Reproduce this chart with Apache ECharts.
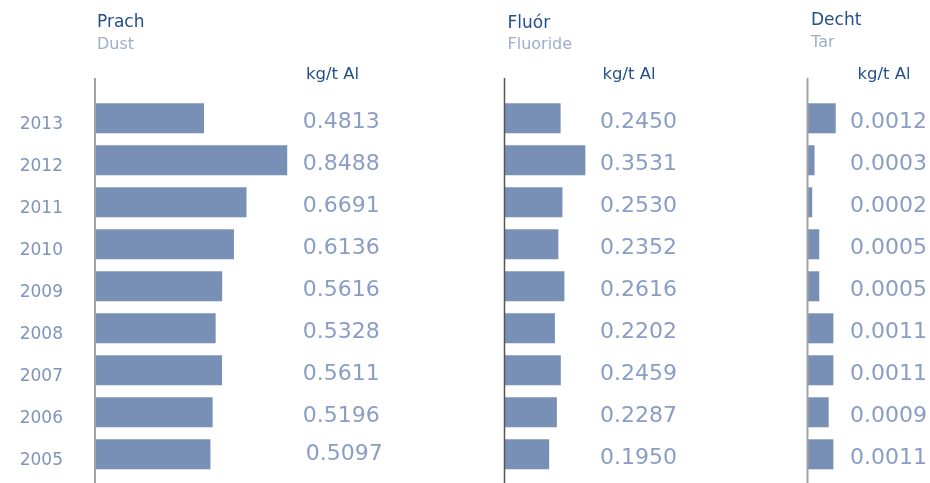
<!DOCTYPE html>
<html>
<head>
<meta charset="utf-8">
<script src="https://cdn.jsdelivr.net/npm/echarts@6/dist/echarts.min.js"></script>
<style>
html,body{margin:0;padding:0;background:#fff;}
#c{width:930px;height:483px;}
</style>
</head>
<body>
<div id="c"></div>
<script>
var years = ['2013','2012','2011','2010','2009','2008','2007','2006','2005'];
var dust = [0.4813,0.8488,0.6691,0.6136,0.5616,0.5328,0.5611,0.5196,0.5097];
var fluoride = [0.2450,0.3531,0.2530,0.2352,0.2616,0.2202,0.2459,0.2287,0.1950];
var tar = [0.0012,0.0003,0.0002,0.0005,0.0005,0.0011,0.0011,0.0009,0.0011];
var titles = ['Prach','Fluór','Decht'];
var subtitles = ['Dust','Fluoride','Tar'];
var unit = 'kg/t Al';

var FONT = "'DejaVu Sans', sans-serif";
var BAR = '#7890b5';
var VAL = '#8a9dc4';
var YEAR = '#7f93bb';
var DARK = '#23508a';
var SUB = '#9eaecc';

var panels = [
  {data: dust, left: 95, width: 203.8, max: 0.9, margin: 4, axis: '#a3a3a3', aw: 2},
  {data: fluoride, left: 504.5, width: 91.6, max: 0.4, margin: 4, axis: '#555555', aw: 1.5},
  {data: tar, left: 807.5, width: 40, max: 0.0017, margin: 2.5, axis: '#a3a3a3', aw: 2}
];

var grids = [], xAxes = [], yAxes = [], series = [], graphics = [];
var titleX = [97, 507.5, 811];
var titleY = [22.7, 23.5, 21];
var subY = [45, 45, 42.7];
var unitX = [306, 602.5, 857.5];

panels.forEach(function(p, i){
  grids.push({left: p.left, top: 97.3, width: p.width, height: 378, containLabel: false});
  xAxes.push({type: 'value', gridIndex: i, min: 0, max: p.max, show: false});
  yAxes.push({
    type: 'category', gridIndex: i, data: years, inverse: true,
    axisLine: {show: false}, axisTick: {show: false},
    axisLabel: i === 0 ? {show: true, margin: 32, color: YEAR, fontSize: 17, fontFamily: FONT, verticalAlign: 'top', lineHeight: 12} : {show: false}
  });
  var valLabels = p.data.map(function(v, k){
    var item = {value: v.toFixed(4)};
    // the reference's last label of the first column sits slightly off
    if (i === 0 && k === p.data.length - 1) item.textStyle = {padding: [0, 0, 0, 3], lineHeight: -4};
    return item;
  });
  yAxes.push({
    type: 'category', gridIndex: i, position: 'right', inverse: true,
    data: valLabels,
    axisLine: {show: false}, axisTick: {show: false},
    axisLabel: {show: true, margin: p.margin, color: VAL, fontSize: 22, fontFamily: FONT, align: 'left', verticalAlign: 'top', lineHeight: 8}
  });
  series.push({
    type: 'bar', xAxisIndex: i, yAxisIndex: i * 2, data: p.data,
    barWidth: 30, itemStyle: {color: BAR}, silent: true, animation: false
  });
  graphics.push({type: 'line', shape: {x1: p.left, y1: 78, x2: p.left, y2: 483}, style: {stroke: p.axis, lineWidth: p.aw}, z: 100});
  graphics.push({type: 'text', x: titleX[i], y: titleY[i], style: {text: titles[i], fill: DARK, fontSize: 17, fontFamily: FONT, verticalAlign: 'middle'}});
  graphics.push({type: 'text', x: titleX[i], y: subY[i], style: {text: subtitles[i], fill: SUB, fontSize: 16, fontFamily: FONT, verticalAlign: 'middle'}});
  graphics.push({type: 'text', x: unitX[i], y: 74.5, style: {text: unit, fill: DARK, fontSize: 16.5, fontFamily: FONT, verticalAlign: 'middle'}});
});

var chart = echarts.init(document.getElementById('c'), null, {renderer: 'canvas'});
chart.setOption({
  animation: false,
  grid: grids, xAxis: xAxes, yAxis: yAxes, series: series, graphic: graphics
});
</script>
</body>
</html>
